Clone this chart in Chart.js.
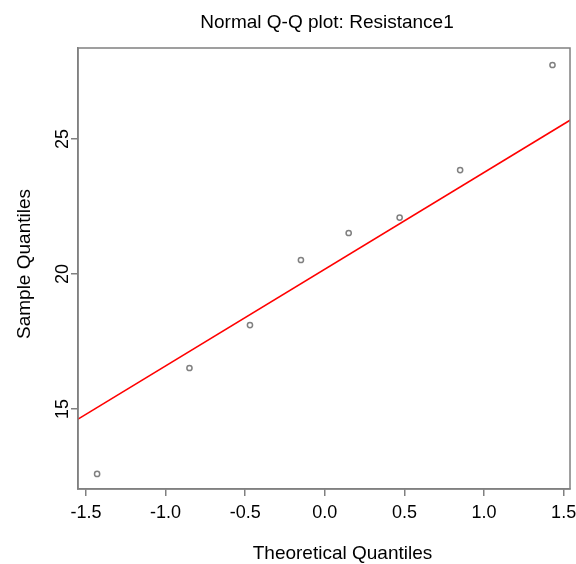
<!DOCTYPE html>
<html>
<head>
<meta charset="utf-8">
<script src="https://cdn.jsdelivr.net/npm/chart.js@4/dist/chart.umd.min.js"></script>
<style>
  html, body { margin: 0; padding: 0; background: #fff; }
  #wrap { width: 576px; height: 564px; }
</style>
</head>
<body>
<div id="wrap"><canvas id="qq" width="576" height="564"></canvas></div>
<script>
// theoretical quantiles (x) and sample quantiles (y)
const theoretical = [-1.43, -0.85, -0.47, -0.15, 0.15, 0.47, 0.85, 1.43];
const sample      = [12.6, 16.52, 18.11, 20.52, 21.52, 22.09, 23.85, 27.74];
// reference line endpoints
const lineX = [-1.6, 1.6];
const lineY = [14.45, 25.91];
// tick labels
const xTicks = [-1.5, -1.0, -0.5, 0.0, 0.5, 1.0, 1.5];
const yTicks = [15, 20, 25];

const GRAY = '#808080';
const FONT = 'Liberation Sans, Arial, Helvetica, sans-serif';

// R style: box round the plot area, all texts placed like base graphics
const rFrame = {
  id: 'rFrame',
  afterDraw(chart) {
    const { ctx, chartArea: a, scales } = chart;
    ctx.save();
    ctx.strokeStyle = GRAY;
    ctx.lineWidth = 1.5;
    ctx.strokeRect(a.left, a.top, a.right - a.left, a.bottom - a.top);

    ctx.fillStyle = '#000';
    ctx.textBaseline = 'alphabetic';
    ctx.textAlign = 'center';

    // title
    ctx.font = '19px ' + FONT;
    ctx.fillText('Normal Q-Q plot: Resistance1', 327, 27.5);

    // x tick labels
    ctx.font = '18px ' + FONT;
    xTicks.forEach((v) => {
      ctx.fillText(v.toFixed(1), scales.x.getPixelForValue(v), 518);
    });

    // y tick labels, vertical
    yTicks.forEach((v) => {
      ctx.save();
      ctx.translate(68, scales.y.getPixelForValue(v));
      ctx.rotate(-Math.PI / 2);
      ctx.fillText(String(v), 0, 0);
      ctx.restore();
    });

    // axis titles
    ctx.font = '19px ' + FONT;
    ctx.fillText('Theoretical Quantiles', 342.5, 558.5);
    ctx.save();
    ctx.translate(30, 264);
    ctx.rotate(-Math.PI / 2);
    ctx.fillText('Sample Quantiles', 0, 0);
    ctx.restore();

    ctx.restore();
  },
};

new Chart(document.getElementById('qq'), {
  type: 'scatter',
  data: {
    datasets: [
      {
        label: 'sample',
        data: theoretical.map((x, i) => ({ x, y: sample[i] })),
        pointStyle: 'circle',
        pointRadius: 2.6,
        pointBorderWidth: 1.5,
        pointBorderColor: GRAY,
        pointBackgroundColor: 'rgba(0,0,0,0)',
        order: 1,
      },
      {
        label: 'qqline',
        type: 'line',
        data: lineX.map((x, i) => ({ x, y: lineY[i] })),
        borderColor: '#ff0000',
        borderWidth: 1.6,
        pointRadius: 0,
        fill: false,
        order: 2,
      },
    ],
  },
  options: {
    responsive: false,
    animation: false,
    layout: { padding: { left: 13, right: 6, top: 48, bottom: 0 } },
    plugins: {
      legend: { display: false },
      tooltip: { enabled: false },
      title: { display: false },
    },
    scales: {
      x: {
        type: 'linear',
        min: -1.55, max: 1.54,
        afterBuildTicks: (s) => { s.ticks = xTicks.map((v) => ({ value: v })); },
        afterFit: (s) => { s.height = 75; },
        grid: { drawOnChartArea: false, color: GRAY, lineWidth: 1.5, tickLength: 7 },
        border: { display: true, color: GRAY, width: 1.5 },
        ticks: { display: false },
      },
      y: {
        type: 'linear',
        min: 12.04, max: 28.37,
        afterBuildTicks: (s) => { s.ticks = yTicks.map((v) => ({ value: v })); },
        afterFit: (s) => { s.width = 65; },
        grid: { drawOnChartArea: false, color: GRAY, lineWidth: 1.5, tickLength: 7 },
        border: { display: true, color: GRAY, width: 1.5 },
        ticks: { display: false },
      },
    },
  },
  plugins: [rFrame],
});
</script>
</body>
</html>
